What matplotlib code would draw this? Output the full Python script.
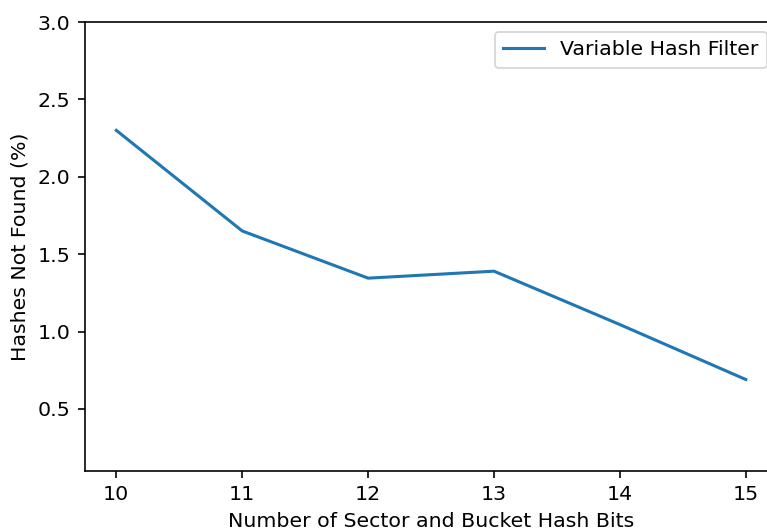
import numpy as np
import matplotlib
matplotlib.use("Agg")
import matplotlib.pyplot as plt

# ---------- Daten ----------
bits = [10, 11, 12, 13, 14, 15]
not_found = [2.30, 1.65, 1.345, 1.39, 1.045, 0.69]

# ---------- Stil ----------
s = 1.16  # alles etwas groesser
plt.rcParams.update({
    "font.size": 10 * s,
    "lines.linewidth": 1.5 * s,
    "axes.linewidth": 0.8 * s,
    "xtick.major.size": 3.5 * s,
    "ytick.major.size": 3.5 * s,
    "xtick.major.width": 0.8 * s,
    "ytick.major.width": 0.8 * s,
    "xtick.major.pad": 3.5 * s,
    "ytick.major.pad": 3.5 * s,
    "axes.labelpad": 4.0 * s,
})

# ---------- Plot ----------
dpi = 127
fig = plt.figure(figsize=(767 / dpi, 532 / dpi), dpi=dpi)
ax = fig.add_axes([0.1106, 0.1150, 0.9028, 0.8436])

ax.plot(bits, not_found, label="Variable Hash Filter")

ax.set_ylim(0.1, 3.0)
ax.set_yticks([0.5, 1.0, 1.5, 2.0, 2.5, 3.0])
ax.set_xlabel("Number of Sector and Bucket Hash Bits")
ax.set_ylabel("Hashes Not Found (%)")
ax.legend(loc="upper right")

fig.savefig("out.png", dpi=dpi)
